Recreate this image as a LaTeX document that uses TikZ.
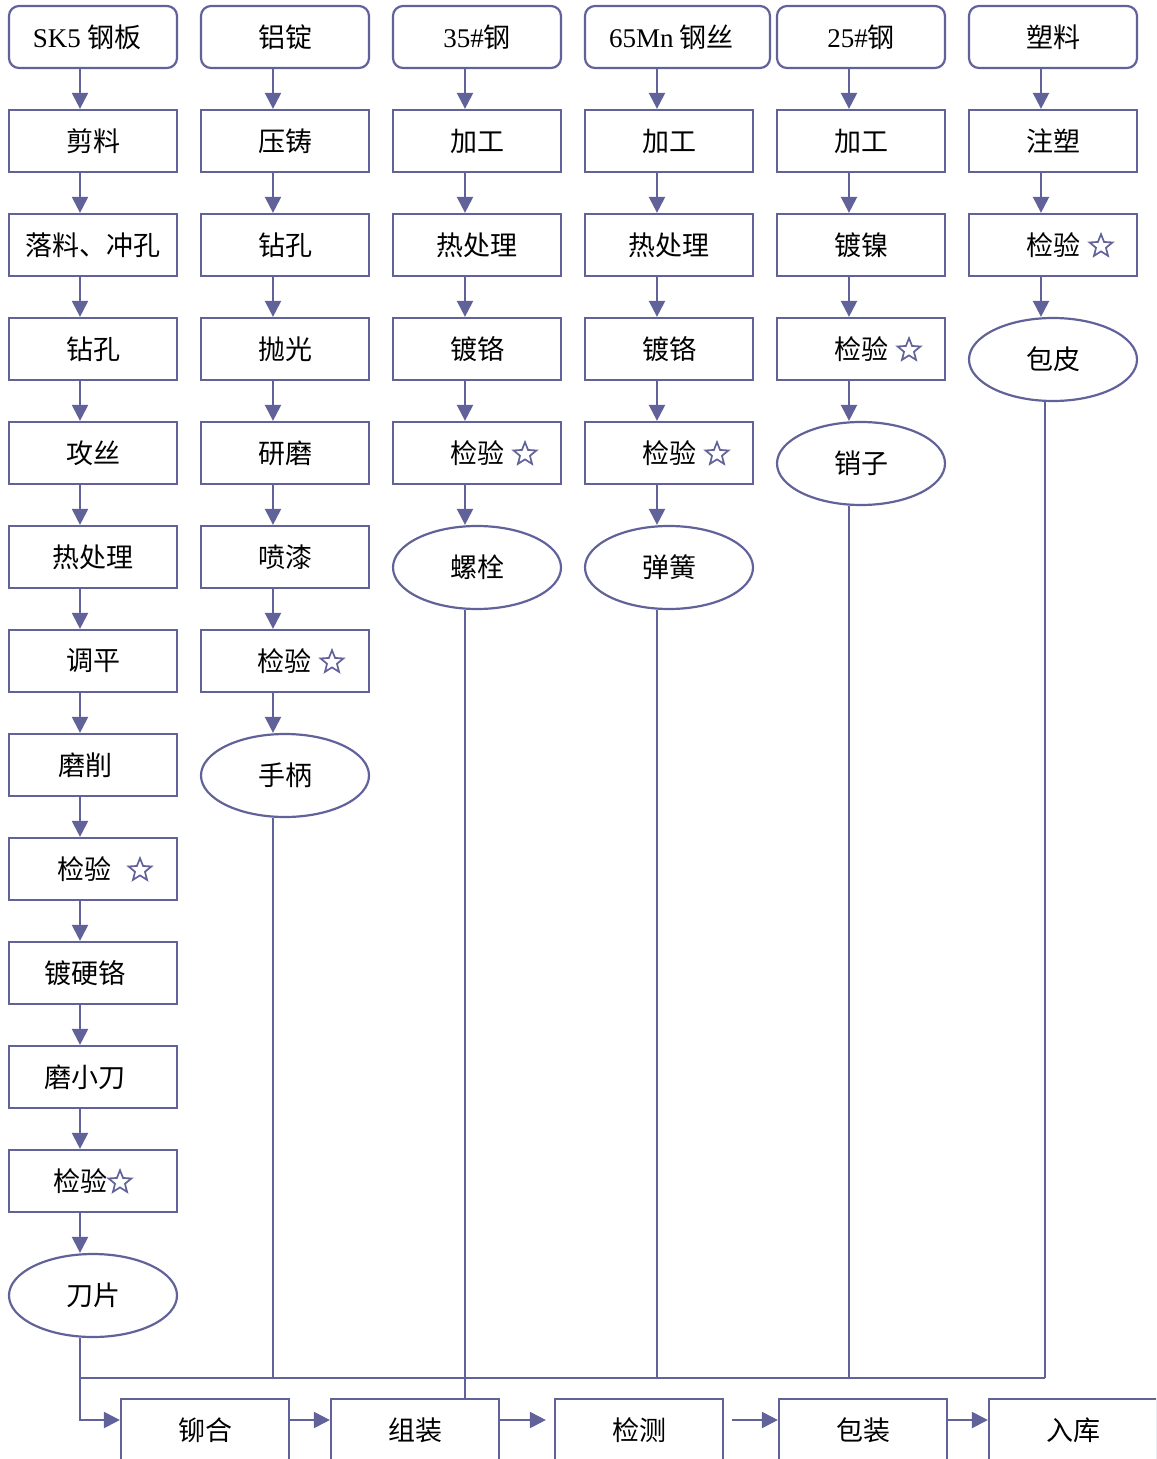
\documentclass[tikz,border=0pt]{standalone}
\usepackage{fontspec}
\setmainfont{Liberation Serif}
\newfontfamily\cjk{Noto Sans CJK SC}
\usetikzlibrary{shapes.geometric,arrows.meta}
\definecolor{lc}{RGB}{98,98,154}
\newcommand\mystar{\tikz[x=1pt,y=1pt,baseline=-4.6pt]\node[star, star points=5, star point ratio=2.3, draw=lc, line width=0.85pt, minimum size=12pt, inner sep=0pt, anchor=center] (s) at (0,0) {};}
\tikzset{
  base/.style={draw=lc, line width=1.1pt, inner sep=0pt, text=black,
    font=\cjk\fontsize{13.5pt}{16pt}\selectfont},
  box/.style={base, rectangle, minimum width=84pt, minimum height=31pt},
  topbox/.style={box, rounded corners=5pt},
  prod/.style={base, ellipse, minimum width=84pt, minimum height=41.5pt},
  ln/.style={draw=lc, line width=1.1pt},
  arr/.style={ln, -{Triangle[length=8pt,width=8pt]}},
}
\begin{document}
\begin{tikzpicture}[x=0.5pt,y=-0.5pt]
\useasboundingbox (0,0) rectangle (1156,1459);
\clip (0,0) rectangle (1156,1459);
% column axes
\coordinate (x1) at (80,0);
\coordinate (x2) at (273,0);
\coordinate (x3) at (465,0);
\coordinate (x4) at (657,0);
\coordinate (x5) at (849,0);
\coordinate (x6) at (1041,0);
\coordinate (x6b) at (1045,0);
\coordinate (bus) at (0,1378);
\coordinate (ay) at (0,1420);
% column 1
\node[topbox] (c1r0) at (93,37) {{\rmfamily SK5} 钢板\hspace*{6pt}};
\node[box] (c1r1) at (93,141) {剪料};
\node[box] (c1r2) at (93,245) {落料、冲孔};
\node[box] (c1r3) at (93,349) {钻孔};
\node[box] (c1r4) at (93,453) {攻丝};
\node[box] (c1r5) at (93,557) {热处理};
\node[box] (c1r6) at (93,661) {调平};
\node[box] (c1r7) at (93,765) {磨削\hspace*{8pt}};
\node[box] (c1r8) at (93,869) {\hspace*{12pt}检验\hspace{8pt}\mystar};
\node[box] (c1r9) at (93,973) {镀硬铬\hspace*{8pt}};
\node[box] (c1r10) at (93,1077) {磨小刀\hspace*{8pt}};
\node[box] (c1r11) at (93,1181) {检验\mystar};
\node[prod] (c1r12) at (93,1295.5) {刀片};
% column 2
\node[topbox] (c2r0) at (285,37) {铝锭};
\node[box] (c2r1) at (285,141) {压铸};
\node[box] (c2r2) at (285,245) {钻孔};
\node[box] (c2r3) at (285,349) {抛光};
\node[box] (c2r4) at (285,453) {研磨};
\node[box] (c2r5) at (285,557) {喷漆};
\node[box] (c2r6) at (285,661) {\hspace*{16pt}检验\hspace{4pt}\mystar};
\node[prod] (c2r7) at (285,775.5) {手柄};
% column 3
\node[topbox] (c3r0) at (477,37) {{\rmfamily 35\#}钢};
\node[box] (c3r1) at (477,141) {加工};
\node[box] (c3r2) at (477,245) {热处理};
\node[box] (c3r3) at (477,349) {镀铬};
\node[box] (c3r4) at (477,453) {\hspace*{17pt}检验\hspace{4pt}\mystar};
\node[prod] (c3r5) at (477,567.5) {螺栓};
% column 4
\node[topbox, minimum width=92.5pt] (c4r0) at (677.5,37) {{\rmfamily 65Mn} 钢丝\hspace*{6pt}};
\node[box] (c4r1) at (669,141) {加工};
\node[box] (c4r2) at (669,245) {热处理};
\node[box] (c4r3) at (669,349) {镀铬};
\node[box] (c4r4) at (669,453) {\hspace*{17pt}检验\hspace{4pt}\mystar};
\node[prod] (c4r5) at (669,567.5) {弹簧};
% column 5
\node[topbox] (c5r0) at (861,37) {{\rmfamily 25\#}钢};
\node[box] (c5r1) at (861,141) {加工};
\node[box] (c5r2) at (861,245) {镀镍};
\node[box] (c5r3) at (861,349) {\hspace*{17pt}检验\hspace{4pt}\mystar};
\node[prod] (c5r4) at (861,463.5) {销子};
% column 6
\node[topbox] (c6r0) at (1053,37) {塑料};
\node[box] (c6r1) at (1053,141) {注塑};
\node[box] (c6r2) at (1053,245) {\hspace*{17pt}检验\hspace{4pt}\mystar};
\node[prod] (c6r3) at (1053,359.5) {包皮};
% bottom row
\node[box] (rivet) at (205,1430) {铆合};
\node[box] (asm) at (415,1430) {组装};
\node[box] (test) at (639,1430) {检测};
\node[box] (pack) at (863,1430) {包装};
\node[box] (store) at (1073,1430) {入库};
% column arrows
\foreach \i [evaluate=\i as \j using int(\i+1)] in {0,...,11}
  \draw[arr] (c1r\i.south -| x1) -- (c1r\j.north -| x1);
\foreach \i [evaluate=\i as \j using int(\i+1)] in {0,...,6}
  \draw[arr] (c2r\i.south -| x2) -- (c2r\j.north -| x2);
\foreach \i [evaluate=\i as \j using int(\i+1)] in {0,...,4}
  \draw[arr] (c3r\i.south -| x3) -- (c3r\j.north -| x3);
\foreach \i [evaluate=\i as \j using int(\i+1)] in {0,...,4}
  \draw[arr] (c4r\i.south -| x4) -- (c4r\j.north -| x4);
\foreach \i [evaluate=\i as \j using int(\i+1)] in {0,...,3}
  \draw[arr] (c5r\i.south -| x5) -- (c5r\j.north -| x5);
\foreach \i [evaluate=\i as \j using int(\i+1)] in {0,...,2}
  \draw[arr] (c6r\i.south -| x6) -- (c6r\j.north -| x6);
% collecting lines
\draw[ln] (x1 |- bus) -- (x6b |- bus);
\draw[ln] (c2r7.south -| x2) -- (x2 |- bus);
\draw[ln] (c3r5.south -| x3) -- (asm.north -| x3);
\draw[ln] (c4r5.south -| x4) -- (x4 |- bus);
\draw[ln] (c5r4.south -| x5) -- (x5 |- bus);
\draw[ln] (c6r3.south -| x6b) -- (x6b |- bus);
\draw[arr] (c1r12.south -| x1) |- (rivet.west |- ay);
% bottom flow
\coordinate (tw) at ([xshift=-4pt]test.west);
\coordinate (te) at ([xshift=4pt]test.east);
\draw[arr] (rivet.east |- ay) -- (asm.west |- ay);
\draw[arr] (asm.east |- ay) -- (tw |- ay);
\draw[arr] (te |- ay) -- (pack.west |- ay);
\draw[arr] (pack.east |- ay) -- (store.west |- ay);
\end{tikzpicture}
\end{document}
